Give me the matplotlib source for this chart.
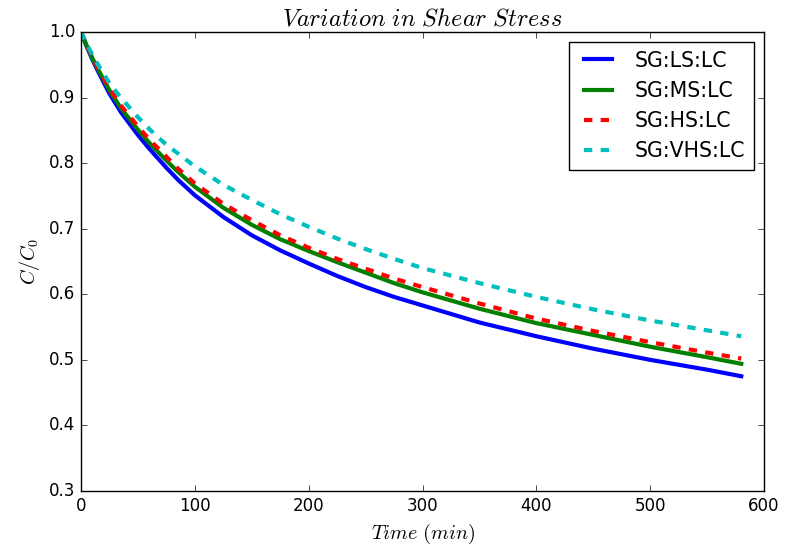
import matplotlib
matplotlib.use("Agg")
import matplotlib.pyplot as plt

# time (min)
time = [0, 5, 10, 15, 25, 35, 50, 60, 75, 85, 100, 125, 150, 175, 200,
        225, 250, 275, 300, 350, 400, 450, 500, 550, 580]

# C/C0 for each shear level
ls_lc = [1.0, 0.978, 0.958, 0.940, 0.906, 0.878, 0.843, 0.822, 0.793, 0.775, 0.751,
         0.718, 0.690, 0.667, 0.647, 0.628, 0.611, 0.596, 0.583, 0.557, 0.536, 0.517,
         0.500, 0.485, 0.475]
ms_lc = [1.0, 0.979, 0.960, 0.943, 0.911, 0.884, 0.851, 0.831, 0.804, 0.787, 0.764,
         0.732, 0.706, 0.684, 0.666, 0.649, 0.633, 0.617, 0.603, 0.578, 0.556, 0.538,
         0.520, 0.504, 0.494]
hs_lc = [1.0, 0.980, 0.962, 0.945, 0.914, 0.888, 0.856, 0.836, 0.810, 0.792, 0.769,
         0.738, 0.713, 0.690, 0.671, 0.654, 0.639, 0.624, 0.611, 0.586, 0.563, 0.544,
         0.527, 0.511, 0.502]
vhs_lc = [1.0, 0.982, 0.965, 0.950, 0.922, 0.900, 0.870, 0.852, 0.828, 0.815, 0.795,
          0.767, 0.744, 0.722, 0.703, 0.685, 0.669, 0.654, 0.640, 0.617, 0.596, 0.577,
          0.560, 0.545, 0.536]

labels = ["SG:LS:LC", "SG:MS:LC", "SG:HS:LC", "SG:VHS:LC"]

plt.style.use("classic")
fig = plt.figure(figsize=(7.91, 5.5), dpi=100)
ax = fig.add_axes([0.1024, 0.1073, 0.8635, 0.8345])

ax.plot(time, ls_lc, "b-", lw=3, label=labels[0])
ax.plot(time, ms_lc, "g-", lw=3, label=labels[1])
ax.plot(time, hs_lc, "r--", lw=3, label=labels[2])
ax.plot(time, vhs_lc, "c--", lw=3, label=labels[3])

ax.set_xlim(0, 600)
ax.set_ylim(0.3, 1.0)
ax.set_title(r"$Variation\ in\ Shear\ Stress$", fontsize=17.5)
ax.set_xlabel(r"$Time\ (min)$", fontsize=14.5)
ax.set_ylabel(r"$C/C_0$", fontsize=14.5)
ax.legend(loc="upper right", fontsize=14.8)

fig.savefig("out.png", dpi=100)
